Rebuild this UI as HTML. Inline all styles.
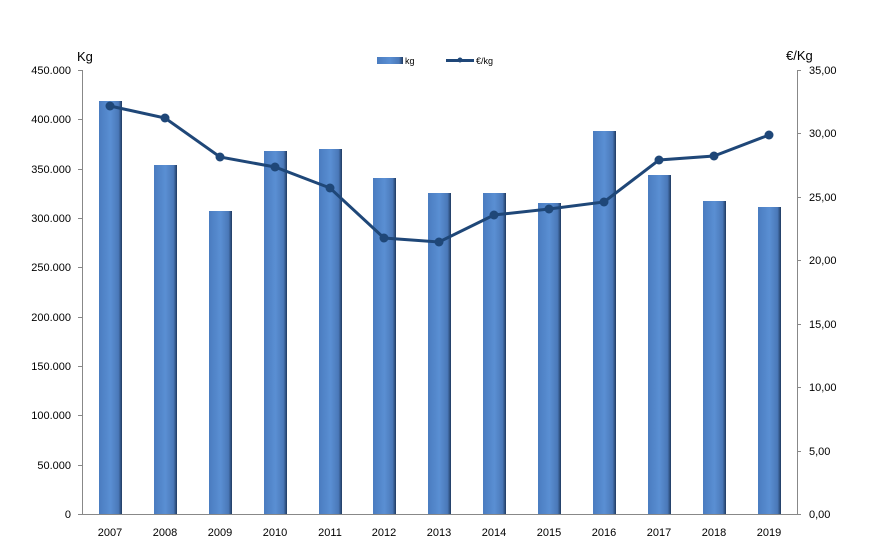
<!DOCTYPE html><html><head><meta charset="utf-8"><style>body{margin:0;background:#fff}svg{display:block;font-family:"Liberation Sans",Arial,sans-serif}</style></head><body>
<svg width="879" height="560" xmlns="http://www.w3.org/2000/svg">
<defs><linearGradient id="g" x1="0" x2="1" y1="0" y2="0"><stop offset="0" stop-color="#4a7cc0"/><stop offset="0.5" stop-color="#5a8fd3"/><stop offset="0.85" stop-color="#4a78b8"/><stop offset="1" stop-color="#1f3a60"/></linearGradient></defs>
<g fill="url(#g)">
<rect x="99" y="101" width="23" height="413"/>
<rect x="154" y="165" width="23" height="349"/>
<rect x="209" y="211" width="23" height="303"/>
<rect x="264" y="151" width="23" height="363"/>
<rect x="319" y="149" width="23" height="365"/>
<rect x="373" y="178" width="23" height="336"/>
<rect x="428" y="193" width="23" height="321"/>
<rect x="483" y="193" width="23" height="321"/>
<rect x="538" y="203" width="23" height="311"/>
<rect x="593" y="131" width="23" height="383"/>
<rect x="648" y="175" width="23" height="339"/>
<rect x="703" y="201" width="23" height="313"/>
<rect x="758" y="207" width="23" height="307"/>
</g>
<g stroke="#888" stroke-width="1" fill="none">
<path d="M82.5 70V514.5M797.5 70V514.5M78 514.5H801"/>
<path d="M78 70.5h4M78 119.5h4M78 169.5h4M78 218.5h4M78 267.5h4M78 317.5h4M78 366.5h4M78 415.5h4M78 465.5h4"/>
<path d="M797 70.5h4M797 133.5h4M797 197.5h4M797 260.5h4M797 324.5h4M797 387.5h4M797 451.5h4"/>
</g>
<polyline fill="none" stroke="#1f4778" stroke-width="3" points="110,106 165,118 220,157 275,167 330,188 384,238 439,242 494,215 549,209 604,202 659,160 714,156 769,135"/>
<g fill="#1f4778"><circle cx="110" cy="106" r="4.5"/><circle cx="165" cy="118" r="4.5"/><circle cx="220" cy="157" r="4.5"/><circle cx="275" cy="167" r="4.5"/><circle cx="330" cy="188" r="4.5"/><circle cx="384" cy="238" r="4.5"/><circle cx="439" cy="242" r="4.5"/><circle cx="494" cy="215" r="4.5"/><circle cx="549" cy="209" r="4.5"/><circle cx="604" cy="202" r="4.5"/><circle cx="659" cy="160" r="4.5"/><circle cx="714" cy="156" r="4.5"/><circle cx="769" cy="135" r="4.5"/></g>
<g font-size="11" fill="#000" text-anchor="end">
<text x="71" y="74">450.000</text><text x="71" y="123">400.000</text><text x="71" y="173">350.000</text><text x="71" y="222">300.000</text><text x="71" y="271">250.000</text><text x="71" y="321">200.000</text><text x="71" y="370">150.000</text><text x="71" y="419">100.000</text><text x="71" y="469">50.000</text><text x="71" y="518">0</text>
</g>
<g font-size="11" fill="#000">
<text x="809" y="74">35,00</text><text x="809" y="137">30,00</text><text x="809" y="201">25,00</text><text x="809" y="264">20,00</text><text x="809" y="328">15,00</text><text x="809" y="391">10,00</text><text x="809" y="455">5,00</text><text x="809" y="518">0,00</text>
</g>
<g font-size="11" fill="#000" text-anchor="middle">
<text x="110" y="536">2007</text><text x="165" y="536">2008</text><text x="220" y="536">2009</text><text x="275" y="536">2010</text><text x="330" y="536">2011</text><text x="384" y="536">2012</text><text x="439" y="536">2013</text><text x="494" y="536">2014</text><text x="549" y="536">2015</text><text x="604" y="536">2016</text><text x="659" y="536">2017</text><text x="714" y="536">2018</text><text x="769" y="536">2019</text>
</g>
<text x="77" y="61" font-size="13">Kg</text>
<text x="786" y="60" font-size="13">€/Kg</text>
<rect x="377" y="57" width="26" height="7" fill="url(#g)"/>
<text x="405" y="64" font-size="9">kg</text>
<line x1="446" y1="60.5" x2="474" y2="60.5" stroke="#1f4778" stroke-width="3"/>
<circle cx="460" cy="60" r="2.5" fill="#1f4778"/>
<text x="476" y="64" font-size="9">€/kg</text>
</svg></body></html>
